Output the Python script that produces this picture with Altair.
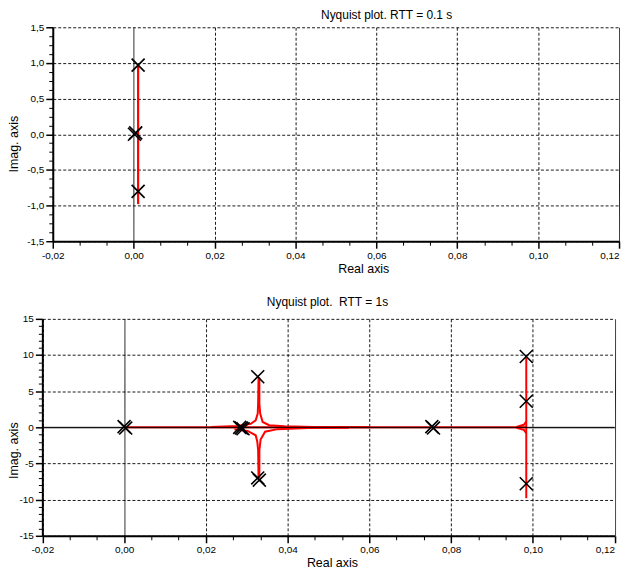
import altair as alt
import pandas as pd

FONT = "Liberation Sans"

# ---------------- top panel: RTT = 0.1 s ----------------
top_line_x = [0.0011, 0.0011]
top_line_y = [-0.98, 0.97]
top_mark_x = [0.0011, 0.0002, 0.0005, 0.0011]
top_mark_y = [0.97, 0.0, 0.02, -0.80]

# ---------------- bottom panel: RTT = 1 s ----------------
seg_main_x = [0.0, 0.0984]
seg_main_y = [0.0, 0.0]
seg_ul_x = [0.0213, 0.0278, 0.0310, 0.0322, 0.0327, 0.0328, 0.0329]
seg_ul_y = [0.05, 0.19, 0.5, 0.97, 1.9, 3.3, 6.9]
seg_ur_x = [0.0331, 0.0331, 0.0333, 0.0339, 0.0355, 0.0392, 0.0465, 0.060]
seg_ur_y = [6.9, 3.3, 1.9, 0.74, 0.29, 0.15, 0.05, 0.02]
seg_ll_x = [0.0270, 0.0302, 0.0322, 0.0326, 0.0328, 0.0329]
seg_ll_y = [-0.27, -0.5, -1.1, -2.0, -3.2, -7.0]
seg_lr_x = [0.0331, 0.0331, 0.0334, 0.0345, 0.0375, 0.045, 0.055]
seg_lr_y = [-7.0, -3.2, -1.7, -0.6, -0.25, -0.1, -0.05]
seg_v_x = [0.0984, 0.0984]
seg_v_y = [-9.8, 9.6]
seg_fu_x = [0.0960, 0.0978, 0.0984]
seg_fu_y = [0.05, 0.35, 0.8]
seg_fl_x = [0.0960, 0.0978, 0.0984]
seg_fl_y = [-0.05, -0.35, -0.8]

bot_mark_x = [0.0, 0.0004, 0.0283, 0.0287, 0.0291, 0.0327, 0.0327, 0.0331,
              0.0753, 0.0757, 0.0984, 0.0984, 0.0984]
bot_mark_y = [0.1, -0.1, 0.0, -0.1, -0.2, 7.0, -7.0, -7.3,
              0.1, -0.1, 9.8, 3.6, -7.8]

# axis ticks
top_x_major = [-0.02, 0.0, 0.02, 0.04, 0.06, 0.08, 0.10, 0.12]
top_y_major = [-1.5, -1.0, -0.5, 0.0, 0.5, 1.0, 1.5]
bot_y_major = [-15, -10, -5, 0, 5, 10, 15]


def segs(named):
    rows = []
    for name, xs, ys in named:
        for i, (x, y) in enumerate(zip(xs, ys)):
            rows.append({"seg": name, "ord": i, "x": x, "y": y})
    return pd.DataFrame(rows)


def with_minors(majors, n_between):
    vals = []
    for a, b in zip(majors[:-1], majors[1:]):
        for k in range(n_between + 1):
            vals.append(round(a + (b - a) * k / (n_between + 1), 6))
    vals.append(majors[-1])
    return vals


def make_axis(majors, n_between, step, fmt, title, tx, ty, solid_test, orient, offset=0):
    minor = f"abs(datum.value/{step} - round(datum.value/{step})) > 0.001"
    label = (f"{minor} ? '' : replace(replace(format(datum.value, '{fmt}'), '.', ','), "
             f"'\u2212', '-')")
    extra = {}
    if orient == "bottom":
        extra["labelAlign"] = {"condition": {"test": "datum.value > 0.119", "value": "right"},
                               "value": "center"}
    return alt.Axis(
        values=with_minors(majors, n_between),
        tickCount=500,
        labelExpr=label,
        labelOverlap=False,
        labelFlush=False,
        labelFont=FONT,
        labelFontSize=10,
        labelColor="black",
        labelPadding=2,
        title=title,
        titleFont=FONT,
        titleFontSize=12.5,
        titleFontWeight="normal",
        titleColor="black",
        titleX=tx,
        titleY=ty,
        titleAlign="center",
        titleBaseline="middle",
        titleAngle=270 if orient == "left" else 0,
        orient=orient,
        offset=offset,
        domainColor="black",
        domainWidth=2,
        tickColor="black",
        tickSize={"condition": {"test": minor, "value": 4}, "value": 7},
        tickWidth={"condition": {"test": minor, "value": 1}, "value": 1.5},
        grid=True,
        gridColor="black",
        gridWidth=0.9,
        gridOpacity={"condition": {"test": minor, "value": 0}, "value": 1},
        gridDash={"condition": {"test": solid_test, "value": [1, 0]}, "value": [3, 2]},
        **extra,
    )


pt_shape = "M-1,-1L1,1M1,-1L-1,1"

# ---------- top chart ----------
top_lines = segs([("v", top_line_x, top_line_y)])
top_pts = pd.DataFrame({"x": top_mark_x, "y": top_mark_y})

tx_axis = make_axis(top_x_major, 2, 0.02, ".2f", "Real axis", 312, 27,
                    "datum.value === 0 || datum.value > 0.119", "bottom")
ty_axis = make_axis(top_y_major, 3, 0.5, ".1f", "Imag. axis", -39, 117,
                    "false", "left")

tx = alt.X("x:Q", scale=alt.Scale(domain=[-0.02, 0.12], nice=False, zero=False), axis=tx_axis)
ty = alt.Y("y:Q", scale=alt.Scale(domain=[-1.5, 1.5], nice=False, zero=False), axis=ty_axis)

top_line_layer = alt.Chart(top_lines).mark_line(color="#ff0000", strokeWidth=2.2).encode(
    x=tx, y=ty, detail="seg:N", order="ord:Q")
top_pt_layer = alt.Chart(top_pts).mark_point(
    shape=pt_shape, filled=False, stroke="black", strokeWidth=1.7, size=170, opacity=1
).encode(x="x:Q", y="y:Q")

top = alt.layer(top_line_layer, top_pt_layer).properties(
    width=569, height=215,
    title=alt.TitleParams("Nyquist plot. RTT = 0.1 s", font=FONT, fontSize=12,
                          fontWeight="normal", color="black", anchor="middle",
                          dx=51, offset=0),
)

# ---------- bottom chart ----------
# the bottom panel's plot area starts 10.5 px further left than the top one
SHIFT = 10.5
BOT_W = 575

bot_lines = segs([
    ("main", seg_main_x, seg_main_y),
    ("ul", seg_ul_x, seg_ul_y),
    ("ur", seg_ur_x, seg_ur_y),
    ("ll", seg_ll_x, seg_ll_y),
    ("lr", seg_lr_x, seg_lr_y),
    ("v", seg_v_x, seg_v_y),
    ("fu", seg_fu_x, seg_fu_y),
    ("fl", seg_fl_x, seg_fl_y),
])
bot_pts = pd.DataFrame({"x": bot_mark_x, "y": bot_mark_y})

bx_axis = make_axis(top_x_major, 2, 0.02, ".2f", "Real axis", 291 - SHIFT, 27,
                    "datum.value === 0 || datum.value > 0.119", "bottom")
by_axis = make_axis(bot_y_major, 4, 5, "d", "Imag. axis", -28.5, 132,
                    "datum.value === 0", "left", offset=SHIFT)

bx = alt.X("x:Q", scale=alt.Scale(domain=[-0.02, 0.12], nice=False, zero=False,
                                  range=[-SHIFT, BOT_W - SHIFT]), axis=bx_axis)
by = alt.Y("y:Q", scale=alt.Scale(domain=[-15, 15], nice=False, zero=False), axis=by_axis)

bot_line_layer = alt.Chart(bot_lines).mark_line(color="#ff0000", strokeWidth=2).encode(
    x=bx, y=by, detail="seg:N", order="ord:Q")
bot_zero = alt.Chart(pd.DataFrame({"x0": [-0.02], "x1": [0.12], "z": [0]})).mark_rule(
    color="black", strokeWidth=1).encode(x="x0:Q", x2="x1:Q", y="z:Q")
bot_pt_layer = alt.Chart(bot_pts).mark_point(
    shape=pt_shape, filled=False, stroke="black", strokeWidth=1.6, size=170, opacity=1
).encode(x="x:Q", y="y:Q")

bottom = alt.layer(bot_line_layer, bot_zero, bot_pt_layer).properties(
    width=BOT_W - 2 * SHIFT, height=218,
    title=alt.TitleParams("Nyquist plot.\u00a0 RTT = 1s", font=FONT, fontSize=12,
                          fontWeight="normal", color="black", anchor="middle",
                          dx=-1, offset=5),
)

chart = alt.concat(top, bottom, columns=1, align="none", spacing=21).properties(
    padding=0, background="white"
).configure_view(stroke=None)

chart.save("out.html", embed_options={"renderer": "svg", "actions": False})
